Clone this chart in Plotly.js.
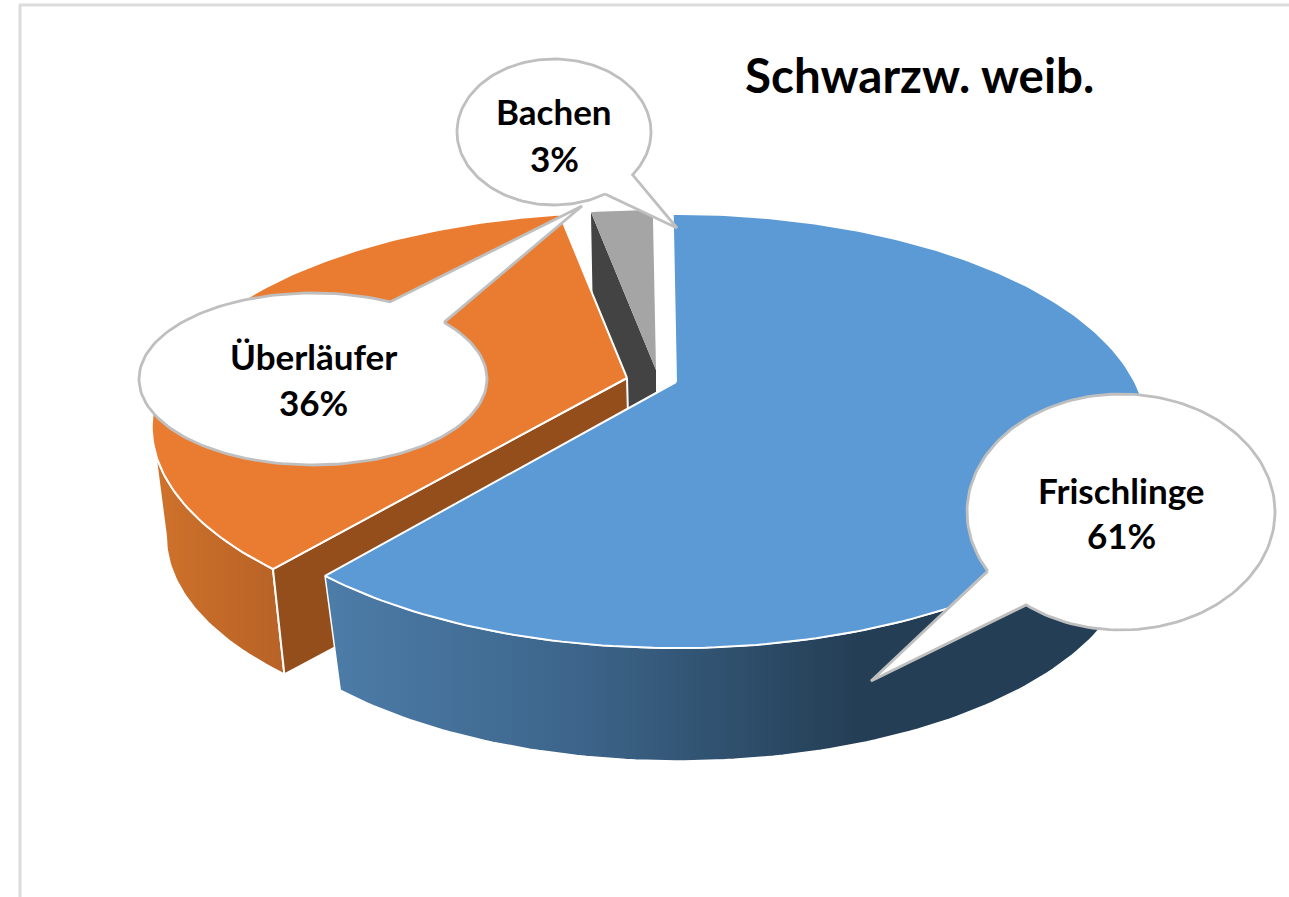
<!DOCTYPE html>
<html><head><meta charset="utf-8">
<script src="https://cdn.plot.ly/plotly-3.0.1.min.js"></script>
<style>html,body{margin:0;padding:0;background:#fff}#c{width:1289px;height:897px}</style>
</head><body><div id="c"></div>
<script>
const categories = ['Frischlinge', 'Überläufer', 'Bachen'];
const shares = [61, 36.3, 2.7];
const chartTitle = 'Schwarzw. weib.';

const W = 1289, H = 897, K = 0.2258, ROT = -0.5, TAN = 103;
const rad = d => d * Math.PI / 180;
// perspective disc: ring centre, horizontal and depth radius
function pt(r, deg) {
  const s = Math.sin(rad(deg)), c = Math.cos(rad(deg)), w = 1 + K * c;
  return [r.x + r.R * s / w, r.y - r.S * c / w];
}
function arc(r, a, b) {
  const out = [], n = Math.max(2, Math.ceil(Math.abs(b - a)));
  for (let i = 0; i <= n; i++) out.push(pt(r, a + (b - a) * i / n));
  return out;
}
const total = shares.reduce((a, b) => a + b, 0);
const edges = [ROT];
shares.forEach(v => edges.push(edges[edges.length - 1] + v / total * 360));

const blueTop = {x: 676, y: 382, R: 459, S: 206};
const blueBot = {x: 679, y: 500, R: 443, S: 202};
const orangeTop = {x: 627, y: 378, R: 463, S: 203};
const orangeBot = {x: 630, y: 490, R: 452, S: 196};
const greyTop = {x: 656, y: 370, R: 448, S: 196};
const greyBot = {x: 656, y: 488, R: 432, S: 189};

function poly(points, fill, lineColor, lineWidth, grad) {
  const t = {
    type: 'scatter', mode: 'lines', hoverinfo: 'skip', showlegend: false,
    x: points.map(p => p[0]), y: points.map(p => p[1]),
    fill: 'toself', fillcolor: fill,
    line: {color: lineColor || 'rgba(0,0,0,0)', width: lineWidth || 0}
  };
  if (grad) t.fillgradient = grad;
  return t;
}
function close(p) { return p.concat([p[0]]); }

function callout(cx, cy, rx, ry, p1, tip, p2) {
  // ellipse run the long way round from p1 to p2, then out to the tip
  const ang = p => Math.atan2((p[1] - cy) / ry, (p[0] - cx) / rx);
  let a = ang(p1), b = ang(p2);
  if (b <= a) b += 2 * Math.PI;
  const pts = [];
  for (let i = 0; i <= 160; i++) {
    const t = a + (b - a) * i / 160;
    pts.push([cx + rx * Math.cos(t), cy + ry * Math.sin(t)]);
  }
  pts.push(tip);
  return poly(close(pts), '#ffffff', '#bfbfbf', 2.8);
}

const [e0, e1, e2, e3] = edges;
const traces = [];

// Bachen: cut face then top
traces.push(poly(close([pt(greyTop, e2), [greyTop.x, greyTop.y], [greyBot.x, greyBot.y], pt(greyBot, e2)]), '#434343'));
traces.push(poly(close([[greyTop.x, greyTop.y]].concat(arc(greyTop, e2, e3))), '#a5a5a5'));

// Überläufer: outer wall, cut face, top
traces.push(poly(close(arc(orangeTop, e1, 360 - TAN).concat(arc(orangeBot, 360 - TAN, e1))), '#c06528', '#ffffff', 2,
  {type: 'horizontal', colorscale: [[0, '#cf722b'], [1, '#b86227']]}));
traces.push(poly(close([[orangeTop.x, orangeTop.y], pt(orangeTop, e1), pt(orangeBot, e1), [orangeBot.x, orangeBot.y]]), '#934e1c', '#ffffff', 2));
traces.push(poly(close([[orangeTop.x, orangeTop.y]].concat(arc(orangeTop, e1, e2))), '#ea7c31', '#ffffff', 2));

// Frischlinge: outer wall, top
traces.push(poly(close(arc(blueTop, TAN, e1).concat(arc(blueBot, e1, TAN))), '#2f5070', '#ffffff', 1.5,
  {type: 'horizontal', colorscale: [[0, '#4c7ca8'], [0.3, '#3c6489'], [0.62, '#243e55'], [1, '#243e55']], start: 330, stop: 1180}));
traces.push(poly(close([[blueTop.x, blueTop.y]].concat(arc(blueTop, e0, e1))), '#5b9ad5', '#ffffff', 2));

// Callouts
traces.push(callout(313, 379, 174, 86, [445, 322], [582, 206], [390, 302]));
traces.push(callout(554, 132, 97, 73, [605, 194], [677, 228], [633, 175]));
traces.push(callout(1121, 512, 154, 118, [988, 571], [871, 681], [1027, 604]));

const labelFont = {family: 'Lato, Carlito, sans-serif', size: 35, color: '#000000'};
function lab(text, x, y, font) {
  return {text: text, x: x, y: y, xref: 'x', yref: 'y', showarrow: false, xanchor: 'center', yanchor: 'middle', font: font || labelFont};
}
const annotations = [
  lab('<b>' + chartTitle + '</b>', 919, 74, {family: 'Lato, Carlito, sans-serif', size: 47.5, color: '#000000'}),
  lab('<b>' + categories[0] + '</b>', 1121, 490), lab('<b>' + Math.round(shares[0]) + '%</b>', 1121, 535),
  lab('<b>' + categories[1] + '</b>', 313, 356), lab('<b>' + Math.round(shares[1]) + '%</b>', 313, 402),
  lab('<b>' + categories[2] + '</b>', 554, 111), lab('<b>' + Math.round(shares[2]) + '%</b>', 554, 158)
];

const layout = {
  width: W, height: H, margin: {l: 0, r: 0, t: 0, b: 0},
  paper_bgcolor: '#ffffff', plot_bgcolor: '#ffffff', showlegend: false,
  xaxis: {range: [0, W], visible: false, fixedrange: true},
  yaxis: {range: [H, 0], visible: false, fixedrange: true},
  annotations: annotations,
  shapes: [
    {type: 'line', xref: 'x', yref: 'y', x0: 20, y0: H, x1: 20, y1: 5, line: {color: '#dcdcdc', width: 3}, layer: 'below'},
    {type: 'line', xref: 'x', yref: 'y', x0: 19, y0: 5, x1: W, y1: 5, line: {color: '#dcdcdc', width: 3}, layer: 'below'}
  ]
};
Plotly.newPlot('c', traces, layout, {displayModeBar: false, staticPlot: true});
</script></body></html>
